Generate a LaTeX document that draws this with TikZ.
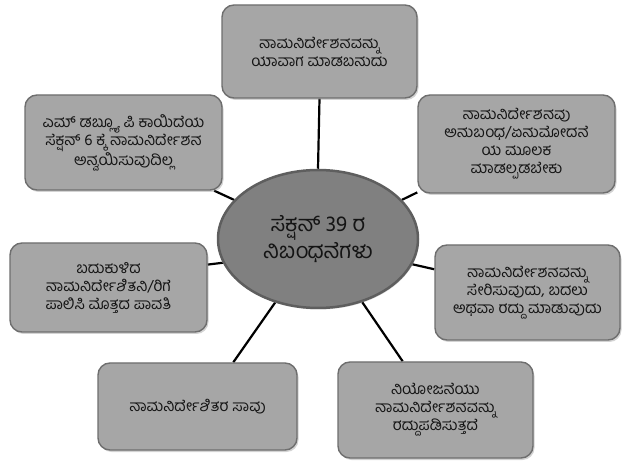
\documentclass[tikz,border=0pt]{standalone}
\usepackage{fontspec}
\newfontfamily\kn[Script=Kannada]{Hind Mysuru}
\usetikzlibrary{shapes.geometric,shadows,backgrounds}
\definecolor{boxfill}{HTML}{A6A6A6}
\definecolor{boxline}{HTML}{6E6E6E}
\definecolor{ellfill}{HTML}{808080}
\definecolor{ellline}{HTML}{5E5E5E}
\definecolor{txt}{HTML}{141414}
\begin{document}
\begin{tikzpicture}[x=1pt,y=-1pt,
  box/.style={draw=boxline,line width=1.4pt,fill=boxfill,rounded corners=12pt,
    inner sep=0pt,align=center,text=txt,font=\kn\fontsize{15.5}{18}\selectfont,
    drop shadow={shadow xshift=1.5pt,shadow yshift=-2pt,opacity=0.35}},
  hub/.style={ellipse,draw=ellline,line width=2.5pt,fill=ellfill,inner sep=0pt,
    align=center,text=txt,font=\kn\fontsize{22}{27}\selectfont,
    drop shadow={shadow xshift=1pt,shadow yshift=-1.5pt,opacity=0.3}},
  link/.style={line width=2.2pt,black}]
\useasboundingbox (0,0) rectangle (624,462);
\node[hub,minimum width=200pt,minimum height=138pt] (c) at (318,239) {ಸೆಕ್ಷನ್ 39 ರ\\ನಿಬಂಧನೆಗಳು};
\node[box,minimum width=195pt,minimum height=93pt] (t) at (319.5,51.5) {ನಾಮನಿರ್ದೇಶನವನ್ನು\\ಯಾವಾಗ ಮಾಡಬಹುದು};
\node[box,minimum width=197pt,minimum height=95pt] (ul) at (123.5,142.5) {ಎಮ್ ಡಬ್ಲ್ಯೂ ಪಿ ಕಾಯಿದೆಯ\\ಸೆಕ್ಷನ್ 6 ಕ್ಕೆ ನಾಮನಿರ್ದೇಶನ\\ಅನ್ವಯಿಸುವುದಿಲ್ಲ};
\node[box,minimum width=197pt,minimum height=98pt] (ur) at (516.5,144) {ನಾಮನಿರ್ದೇಶನವು\\ಅನುಬಂಧ/ಏನುಮೋದನೆ\\ಯ ಮೂಲಕ\\ಮಾಡಲ್ಪಡಬೇಕು};
\node[box,minimum width=197pt,minimum height=89pt] (l) at (108.5,287.5) {ಬದುಕುಳಿದ\\ನಾಮನಿರ್ದೇಶಿತನಿ/ರಿಗೆ\\ಪಾಲಿಸಿ ಮೊತ್ತದ ಪಾವತಿ};
\node[box,minimum width=185pt,minimum height=95pt] (r) at (527.5,292.5) {ನಾಮನಿರ್ದೇಶನವನ್ನು\\ಸೇರಿಸುವುದು, ಬದಲು\\ಅಥವಾ ರದ್ದು ಮಾಡುವುದು};
\node[box,minimum width=199pt,minimum height=87pt] (bl) at (197.5,406.5) {ನಾಮನಿರ್ದೇಶಿತರ ಸಾವು};
\node[box,minimum width=195pt,minimum height=96pt] (br) at (435.5,410) {ನಿಯೋಜನೆಯು\\ನಾಮನಿರ್ದೇಶನವನ್ನು\\ರದ್ದುಪಡಿಸುತ್ತದೆ};
\begin{scope}[on background layer]
\draw[link] (c.90) -- (t.south);
\draw[link] (c.155) -- (ul.-28);
\draw[link] (c.25) -- (ur.206);
\draw[link] (c.194) -- (l.13);
\draw[link] (c.345) -- (r.166);
\draw[link] (c.236) -- (bl.51);
\draw[link] (c.305) -- (br.124);
\end{scope}
\end{tikzpicture}
\end{document}
